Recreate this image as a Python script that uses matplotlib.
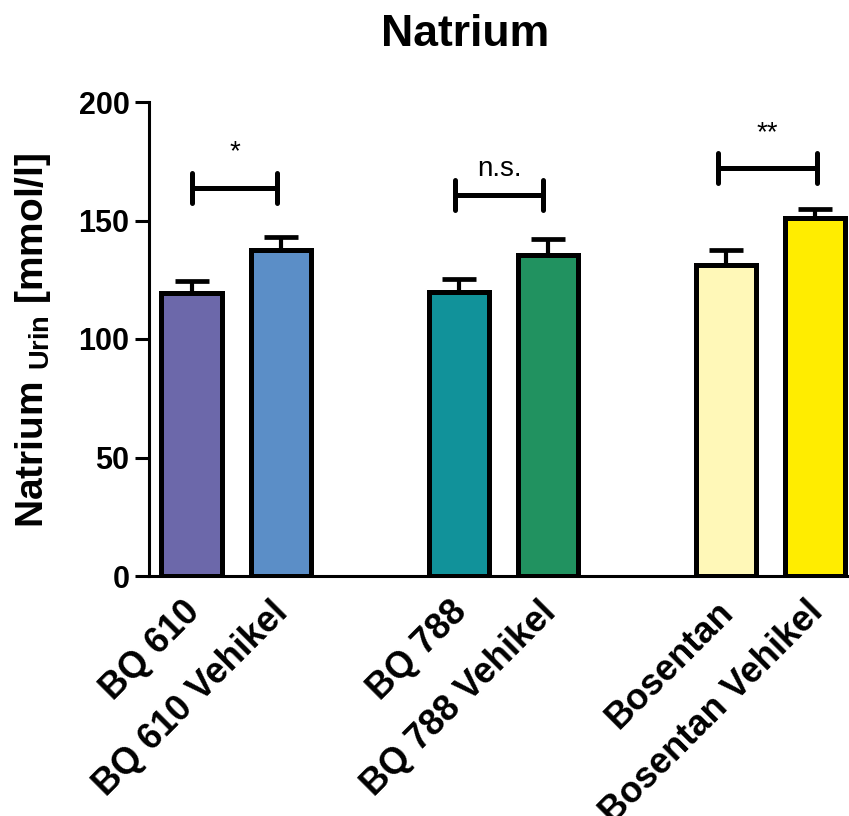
import numpy as np
import matplotlib
matplotlib.use("Agg")
import matplotlib.pyplot as plt
import matplotlib.transforms as mtransforms

plt.rcParams['font.family'] = ['Liberation Sans', 'DejaVu Sans']
plt.rcParams['mathtext.fontset'] = 'custom'
plt.rcParams['mathtext.rm'] = 'Liberation Sans'
plt.rcParams['mathtext.bf'] = 'Liberation Sans:bold'

# data
groups = ['BQ 610', 'BQ 610 Vehikel', 'BQ 788', 'BQ 788 Vehikel', 'Bosentan', 'Bosentan Vehikel']
means = [119.5, 137.5, 119.8, 135.4, 131.2, 151.0]
sem = [4.8, 5.5, 5.5, 6.8, 6.3, 4.0]
colors = ['#6c68aa', '#5b8ec7', '#11929a', '#219260', '#fff8b8', '#ffed00']
x_pos = [0, 1, 3, 4, 6, 7]

# significance brackets: (x start, x end, height, label)
brackets = [(0.0, 0.96, 163.7, '*'), (2.96, 3.94, 160.8, 'n.s.'), (5.91, 7.02, 172.0, '**')]

fig = plt.figure(figsize=(8.49, 8.16), dpi=100)
ax = fig.add_axes([149/849, 1 - 576/816, 1 - 149/849, (576 - 102)/816])

ax.errorbar(x_pos, means, yerr=[np.zeros(len(sem)), sem], fmt='none', ecolor='black',
            elinewidth=3, capsize=12.5, capthick=3.4, zorder=1)
ax.bar(x_pos, means, width=0.68, color=colors, edgecolor='black', linewidth=3.6, zorder=2)

for x0, x1, h, lab in brackets:
    ax.plot([x0, x1], [h, h], color='black', lw=3.6, solid_capstyle='round')
    for xe in (x0, x1):
        ax.plot([xe, xe], [h - 6.3, h + 6.3], color='black', lw=3.6, solid_capstyle='round')
    xm = (x0 + x1) / 2
    if lab == 'n.s.':
        ax.text(xm, h + 5.5, lab, ha='center', va='bottom', fontsize=20)
    else:
        ax.text(xm, h + 9.5, lab, ha='center', va='bottom', fontsize=20)

ax.set_xlim(-0.48, 7.38)
ax.set_ylim(0, 200)
ax.set_yticks([0, 50, 100, 150, 200])
ax.set_xticks(x_pos)
ax.tick_params(axis='y', length=10, width=2.2, pad=4)
ax.tick_params(axis='x', length=0, pad=12)
ax.set_xticklabels(groups, rotation=45, ha='right', rotation_mode='anchor',
                   fontsize=26, fontweight='bold')
# nudge the rotated labels a little to the left, like the original
shift = mtransforms.ScaledTranslation(-10/100, -2/100, fig.dpi_scale_trans)
for t in ax.get_xticklabels():
    t.set_transform(t.get_transform() + shift)
for t in ax.get_yticklabels():
    t.set_fontsize(22)
    t.set_fontweight('bold')
ax.spines['top'].set_visible(False)
ax.spines['right'].set_visible(False)
ax.spines['left'].set_linewidth(2.2)
ax.spines['bottom'].set_linewidth(2.2)

fig.text(465/849, 1 - 34/816, 'Natrium', ha='center', va='center', fontsize=32, fontweight='bold')
fig.text(33/849, 1 - 340/816, r'Natrium $_{\mathbf{Urin}}$ [mmol/l]', rotation=90,
         ha='center', va='center', fontsize=28, fontweight='bold')

fig.savefig('out.png', dpi=100)
